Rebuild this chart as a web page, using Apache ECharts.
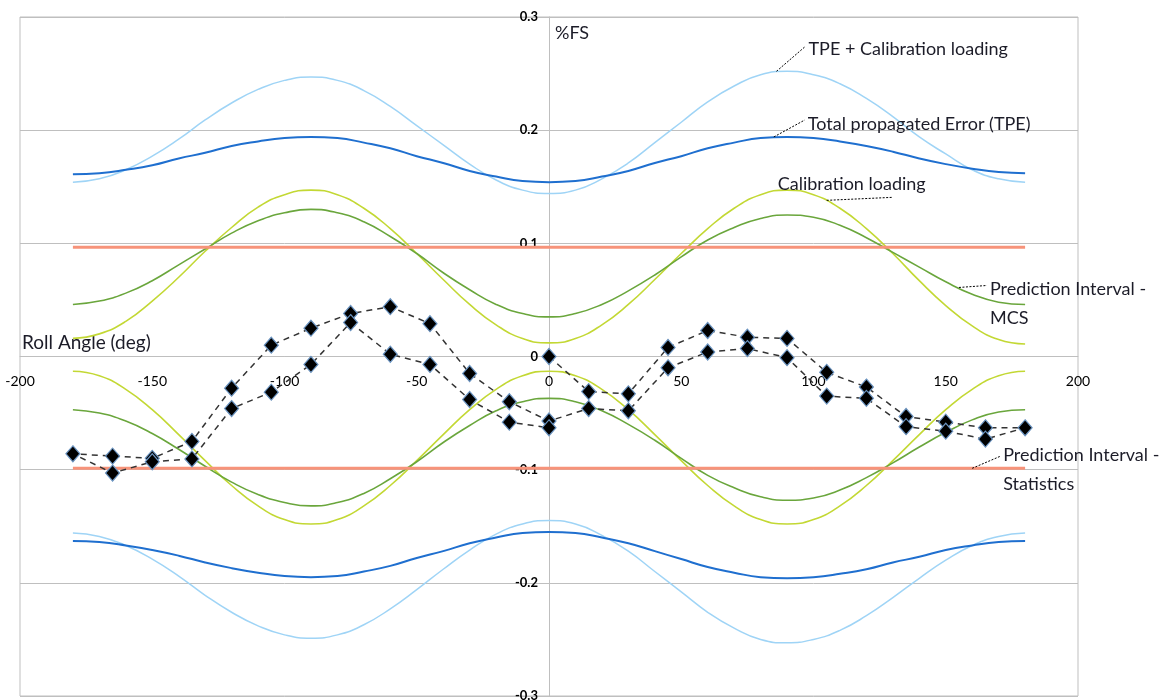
<!DOCTYPE html>
<html>
<head>
<meta charset="utf-8">
<script src="https://cdn.jsdelivr.net/npm/echarts@6/dist/echarts.min.js"></script>
<style>
  html, body { margin: 0; padding: 0; background: #fff; }
  #chart { width: 1166px; height: 700px; }
</style>
</head>
<body>
<div id="chart"></div>
<script>
// Roll angle grid used by the uncertainty envelopes (deg)
const rollAngles = [-180,-170,-160,-150,-140,-130,-120,-110,-100,-90,-80,-70,-60,-50,-40,-30,-20,-10,0,
  10,20,30,40,50,60,70,80,90,100,110,120,130,140,150,160,170,180];

// TPE + Calibration loading (%FS), upper and lower bound
const tpeCalUpper = [0.154,0.157,0.165,0.177,0.192,0.209,0.224,0.236,0.244,0.247,0.244,0.235,0.221,0.204,0.187,0.170,0.156,0.147,0.144,
  0.147,0.157,0.171,0.189,0.207,0.225,0.239,0.249,0.252,0.249,0.241,0.228,0.212,0.194,0.179,0.165,0.157,0.154];
const tpeCalLower = [-0.156,-0.159,-0.167,-0.179,-0.194,-0.211,-0.226,-0.238,-0.246,-0.249,-0.246,-0.237,-0.223,-0.206,-0.188,-0.171,-0.157,-0.148,-0.145,
  -0.148,-0.158,-0.172,-0.190,-0.208,-0.226,-0.240,-0.250,-0.253,-0.250,-0.242,-0.229,-0.213,-0.196,-0.180,-0.167,-0.159,-0.156];

// Total propagated Error (TPE)
const tpeUpper = [0.161,0.162,0.165,0.169,0.175,0.180,0.186,0.190,0.193,0.194,0.193,0.189,0.184,0.177,0.171,0.164,0.159,0.155,0.154,
  0.155,0.159,0.164,0.171,0.177,0.184,0.189,0.193,0.194,0.193,0.190,0.186,0.181,0.175,0.170,0.166,0.163,0.162];
const tpeLower = [-0.163,-0.164,-0.167,-0.171,-0.176,-0.182,-0.187,-0.191,-0.194,-0.195,-0.194,-0.190,-0.185,-0.178,-0.172,-0.165,-0.160,-0.156,-0.155,
  -0.156,-0.160,-0.165,-0.172,-0.179,-0.186,-0.191,-0.195,-0.196,-0.195,-0.192,-0.188,-0.182,-0.177,-0.171,-0.167,-0.164,-0.163];

// Calibration loading
const calUpper = [0.016,0.020,0.031,0.049,0.070,0.093,0.114,0.132,0.143,0.147,0.143,0.131,0.113,0.091,0.068,0.046,0.028,0.016,0.012,
  0.016,0.028,0.046,0.068,0.091,0.113,0.131,0.143,0.147,0.143,0.131,0.113,0.091,0.067,0.045,0.027,0.015,0.011];
const calLower = [-0.013,-0.017,-0.029,-0.047,-0.069,-0.092,-0.114,-0.132,-0.144,-0.148,-0.144,-0.132,-0.114,-0.092,-0.069,-0.047,-0.029,-0.017,-0.013,
  -0.017,-0.029,-0.047,-0.069,-0.092,-0.114,-0.132,-0.144,-0.148,-0.144,-0.132,-0.114,-0.092,-0.069,-0.047,-0.029,-0.017,-0.013];

// Prediction Interval - MCS
const mcsUpper = [0.046,0.049,0.056,0.067,0.081,0.095,0.109,0.120,0.127,0.130,0.127,0.119,0.106,0.091,0.074,0.059,0.046,0.038,0.035,
  0.038,0.046,0.058,0.072,0.088,0.103,0.114,0.122,0.125,0.123,0.116,0.105,0.092,0.079,0.066,0.055,0.048,0.046];
const mcsLower = [-0.047,-0.050,-0.057,-0.068,-0.082,-0.097,-0.111,-0.122,-0.129,-0.132,-0.129,-0.121,-0.108,-0.093,-0.076,-0.061,-0.048,-0.040,-0.037,
  -0.040,-0.048,-0.060,-0.074,-0.090,-0.105,-0.116,-0.124,-0.127,-0.125,-0.118,-0.107,-0.094,-0.080,-0.067,-0.056,-0.049,-0.047];

// Prediction Interval - Statistics (constant band)
const statAngles = [-180, 180];
const statUpper = [0.0965, 0.0965];
const statLower = [-0.0988, -0.0988];

// Measured roll sweep: 0 -> 180 -> -180 -> 0, in measurement order
const sweepAngle = [0,15,30,45,60,75,90,105,120,135,150,165,180,
  165,150,135,120,105,90,75,60,45,30,15,0,
  -15,-30,-45,-60,-75,-90,-105,-120,-135,-150,-165,-180,
  -165,-150,-135,-120,-105,-90,-75,-60,-45,-30,-15,0];
const sweepError = [0,-0.031,-0.033,0.008,0.023,0.017,0.016,-0.014,-0.027,-0.053,-0.058,-0.063,-0.063,
  -0.073,-0.066,-0.062,-0.037,-0.035,-0.001,0.007,0.004,-0.010,-0.048,-0.046,-0.057,
  -0.040,-0.015,0.029,0.044,0.038,0.025,0.010,-0.028,-0.075,-0.090,-0.088,-0.086,
  -0.103,-0.093,-0.0905,-0.046,-0.0315,-0.007,0.030,0.002,-0.007,-0.038,-0.058,-0.063];

// Axis ticks
const xTicks = { min: -200, max: 200, step: 50 };
const yTicks = { min: -0.3, max: 0.3, step: 0.1 };

const FONT = 'Lato, "Liberation Sans", sans-serif';
const W = 1166, H = 700;
const GRID = { left: 20, right: 88, top: 17, bottom: 4 };
const plotW = W - GRID.left - GRID.right;
const plotH = H - GRID.top - GRID.bottom;

const pairs = (xs, ys) => xs.map((x, i) => [x, ys[i]]);

function envelope(name, ys, color, width) {
  return {
    name, type: 'line', data: pairs(rollAngles, ys), smooth: 0.5,
    showSymbol: false, symbol: 'none', silent: true, z: 2,
    lineStyle: { color, width }
  };
}

const chart = echarts.init(document.getElementById('chart'), null, { renderer: 'canvas' });

// The axes cross at the origin; offsets move line and labels to the zero position
const xZeroOffset = -plotH * (yTicks.max / (yTicks.max - yTicks.min));
const yZeroOffset = -plotW * ((0 - xTicks.min) / (xTicks.max - xTicks.min));

chart.setOption({
  animation: false,
  backgroundColor: '#ffffff',
  textStyle: { fontFamily: FONT },
  grid: Object.assign({ show: true, borderColor: '#bfbfbf', borderWidth: 1, outerBoundsMode: 'none' }, GRID),
  xAxis: {
    type: 'value', min: xTicks.min, max: xTicks.max, interval: xTicks.step,
    position: 'bottom', offset: xZeroOffset,
    axisLine: { onZero: false, lineStyle: { color: '#bfbfbf', width: 1 } },
    axisTick: { show: false },
    splitLine: { show: false },
    axisLabel: { color: '#000', fontSize: 14, margin: 18, fontFamily: FONT, showMinLabel: true, showMaxLabel: true, hideOverlap: false }
  },
  yAxis: {
    type: 'value', min: yTicks.min, max: yTicks.max, interval: yTicks.step,
    position: 'left', offset: yZeroOffset,
    axisLine: { onZero: false, lineStyle: { color: '#bfbfbf', width: 1 } },
    axisTick: { show: true, length: 5, lineStyle: { color: '#bfbfbf' } },
    splitLine: { show: true, lineStyle: { color: '#bfbfbf', width: 1 } },
    axisLabel: { color: '#000', fontSize: 13, fontWeight: 'bold', margin: 11, fontFamily: FONT,
      showMinLabel: true, showMaxLabel: true, hideOverlap: false,
      formatter: v => String(Math.round(v * 10) / 10) }
  },
  series: [
    envelope('TPE + Calibration loading', tpeCalUpper, '#9fd4f6', 1.5),
    envelope('TPE + Calibration loading (lower)', tpeCalLower, '#9fd4f6', 1.5),
    envelope('Total propagated Error (TPE)', tpeUpper, '#1f6fcf', 2),
    envelope('Total propagated Error (TPE) (lower)', tpeLower, '#1f6fcf', 2),
    envelope('Calibration loading', calUpper, '#c3d834', 1.6),
    envelope('Calibration loading (lower)', calLower, '#c3d834', 1.6),
    envelope('Prediction Interval - MCS', mcsUpper, '#6aa63c', 1.6),
    envelope('Prediction Interval - MCS (lower)', mcsLower, '#6aa63c', 1.6),
    { name: 'Prediction Interval - Statistics', type: 'line', data: pairs(statAngles, statUpper),
      symbol: 'none', silent: true, z: 2, lineStyle: { color: '#f7937a', width: 3 } },
    { name: 'Prediction Interval - Statistics (lower)', type: 'line', data: pairs(statAngles, statLower),
      symbol: 'none', silent: true, z: 2, lineStyle: { color: '#f7937a', width: 3 } },
    { name: 'Measured', type: 'line', data: pairs(sweepAngle, sweepError), z: 5,
      symbol: 'diamond', symbolSize: [14, 16], showSymbol: true, showAllSymbol: true,
      itemStyle: { color: '#000', borderColor: '#6a93c0', borderWidth: 1.2 },
      lineStyle: { color: '#333', width: 1.5, type: [6, 5] } }
  ]
});

// Annotations: anchored on a curve point (data coords), leader to the label
const notes = [
  { at: [86, 0.252],   end: [29, -25], text: ['TPE + Calibration loading'], tx: [32, -22] },
  { at: [85, 0.194],   end: [31, -17], text: ['Total propagated Error (TPE)'], tx: [34, -13] },
  { at: [105, 0.138],  end: [66, -3],  text: ['Calibration loading'], tx: [-49, -16] },
  { at: [155, 0.061],  end: [28, -2],  text: ['Prediction Interval -', 'MCS'], tx: [31, 2] },
  { at: [160, -0.0988], end: [28, -12], text: ['Prediction Interval -', 'Statistics'], tx: [31, -13] }
];

const graphics = [];
notes.forEach(n => {
  const p = chart.convertToPixel({ gridIndex: 0 }, n.at);
  graphics.push({
    type: 'line', silent: true, z: 10,
    shape: { x1: p[0], y1: p[1], x2: p[0] + n.end[0], y2: p[1] + n.end[1] },
    style: { stroke: '#000', lineWidth: 1, lineDash: [2, 1.5] }
  });
  n.text.forEach((t, i) => {
    graphics.push({
      type: 'text', silent: true, z: 10,
      x: p[0] + n.tx[0], y: p[1] + n.tx[1] + i * 29,
      style: { text: t, fill: '#1c1c28', font: '18px ' + FONT, textAlign: 'left', textVerticalAlign: 'middle' }
    });
  });
});

// Axis titles
const yTop = chart.convertToPixel({ gridIndex: 0 }, [0, 0.3]);
const xLeft = chart.convertToPixel({ gridIndex: 0 }, [-200, 0]);
graphics.push({
  type: 'text', silent: true, x: yTop[0] + 6, y: yTop[1] + 16,
  style: { text: '%FS', fill: '#1c1c28', font: '18px ' + FONT, textAlign: 'left', textVerticalAlign: 'middle' }
});
graphics.push({
  type: 'text', silent: true, x: xLeft[0] + 2, y: xLeft[1] - 14,
  style: { text: 'Roll Angle (deg)', fill: '#1c1c28', font: '19px ' + FONT, textAlign: 'left', textVerticalAlign: 'middle' }
});

chart.setOption({ graphic: graphics });
</script>
</body>
</html>
